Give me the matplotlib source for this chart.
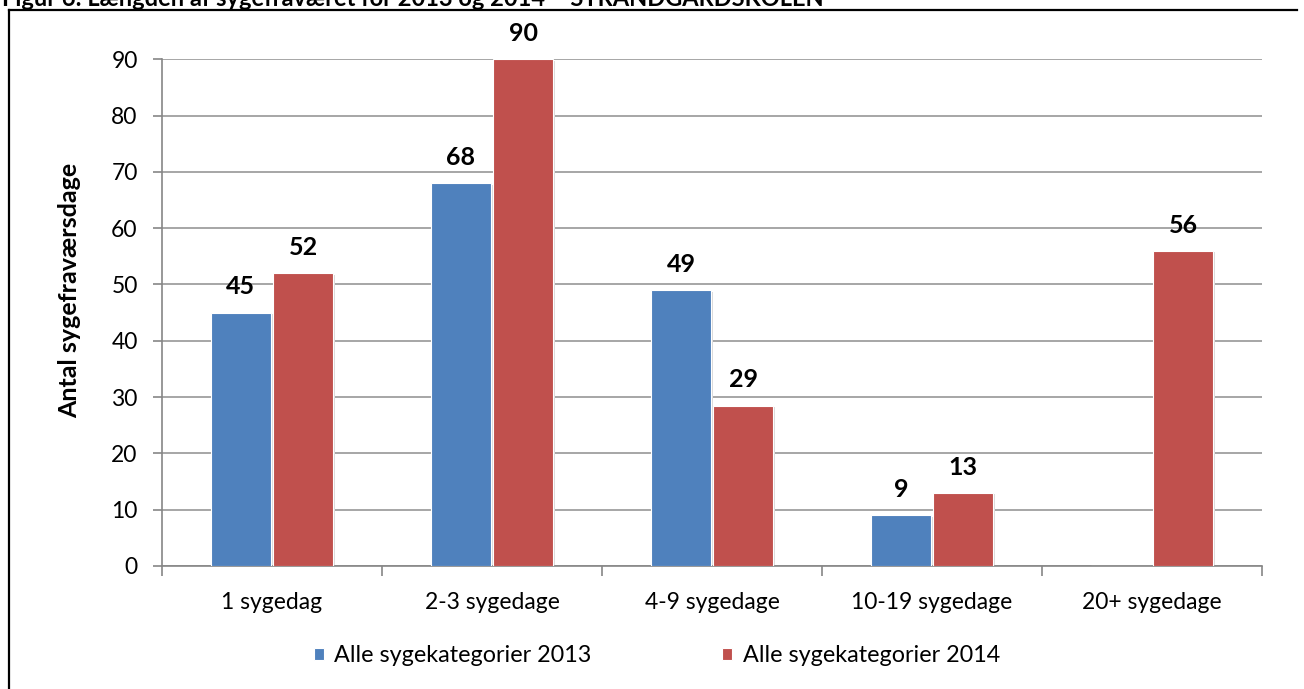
import matplotlib
matplotlib.use("Agg")
import matplotlib.pyplot as plt
import numpy as np
from matplotlib.lines import Line2D

categories = ["1 sygedag", "2-3 sygedage", "4-9 sygedage", "10-19 sygedage", "20+ sygedage"]
values_2013 = [45, 68, 49, 9, 0]
values_2014 = [52, 90, 28.5, 13, 56]
series_names = ["Alle sygekategorier 2013", "Alle sygekategorier 2014"]
y_ticks = [0, 10, 20, 30, 40, 50, 60, 70, 80, 90]
y_label = "Antal sygefraværsdage"
title = "Figur 6: Længden af sygefraværet for 2013 og 2014 – STRANDGÅRDSKOLEN"

FONT = ["Lato", "DejaVu Sans"]
plt.rcParams["font.family"] = FONT

C13 = "#4F81BD"
C14 = "#C0504D"
GRID = "#A6A6A6"
AX = "#868686"
FS = 16.5

W, H = 1304, 689
fig = plt.figure(figsize=(W / 100, H / 100), dpi=100)

# outer frame (left and top visible)
fig.add_artist(Line2D([9 / W, 9 / W], [0, 1 - 9.5 / H], color="black", lw=1.6, transform=fig.transFigure))
fig.add_artist(Line2D([9 / W, 1297 / W], [1 - 9.5 / H, 1 - 9.5 / H], color="black", lw=1.6, transform=fig.transFigure))

# clipped title at top
fig.text(2 / W, 1 - 6 / H, title, fontsize=17, fontweight="bold", ha="left", va="baseline", color="black")

ax = fig.add_axes([162 / W, 1 - 566 / H, 1100 / W, (566 - 59.3) / H])

x = np.arange(len(categories))
bw = 0.277
off = 0.141
b1 = ax.bar(x - off, values_2013, bw, color=C13, edgecolor="white", linewidth=0.8, zorder=3, label=series_names[0])
b2 = ax.bar(x + off, values_2014, bw, color=C14, edgecolor="white", linewidth=0.8, zorder=3, label=series_names[1])

# soft shadow behind bars
for bars in (b1, b2):
    for r in bars:
        if r.get_height() > 0:
            ax.bar(r.get_x() + r.get_width() / 2 + 0.004, r.get_height(), r.get_width() + 0.006,
                   bottom=-0.25, color="#D9D9D9", zorder=2.5, linewidth=0)

for bars, vals in ((b1, values_2013), (b2, values_2014)):
    for r, v in zip(bars, vals):
        if v > 0:
            ax.annotate(str(int(v + 0.5)), (r.get_x() + r.get_width() / 2, v),
                        xytext=(0, 18.5), textcoords="offset points",
                        ha="center", va="center", fontsize=18, fontweight="bold", color="black")

ax.set_xlim(-0.5, len(categories) - 0.5)
ax.set_ylim(0, 90)
ax.set_yticks(y_ticks)
ax.set_yticklabels([str(t) for t in y_ticks], fontsize=FS)
ax.yaxis.grid(True, color=GRID, lw=1.4, zorder=0)
ax.set_axisbelow(True)

# x ticks at category boundaries, labels at centers
ax.set_xticks(np.arange(len(categories) + 1) - 0.5)
ax.set_xticklabels([])
ax.set_xticks(x, minor=True)
ax.set_xticklabels(categories, minor=True, fontsize=FS)
ax.tick_params(axis="x", which="major", length=7, color=AX, width=1.2, direction="out")
ax.tick_params(axis="x", which="minor", length=0, pad=19)
ax.tick_params(axis="y", length=6.5, color=AX, width=1.2, pad=11)

for s in ("top", "right"):
    ax.spines[s].set_visible(False)
for s in ("left", "bottom"):
    ax.spines[s].set_color(AX)
    ax.spines[s].set_linewidth(1.2)

ax.set_ylabel(y_label, fontsize=18, fontweight="bold")
ax.yaxis.set_label_coords(-(162 - 81) / 1100, (566 - 290) / (566 - 59.3))

leg = fig.legend(handles=[b1, b2], labels=series_names, loc="center", bbox_to_anchor=(657 / W, 1 - 656 / H),
                 ncol=2, frameon=False, fontsize=16.8, handlelength=0.43, handleheight=0.43,
                 handletextpad=0.45, columnspacing=5.6)

fig.savefig("out.png", dpi=100)
